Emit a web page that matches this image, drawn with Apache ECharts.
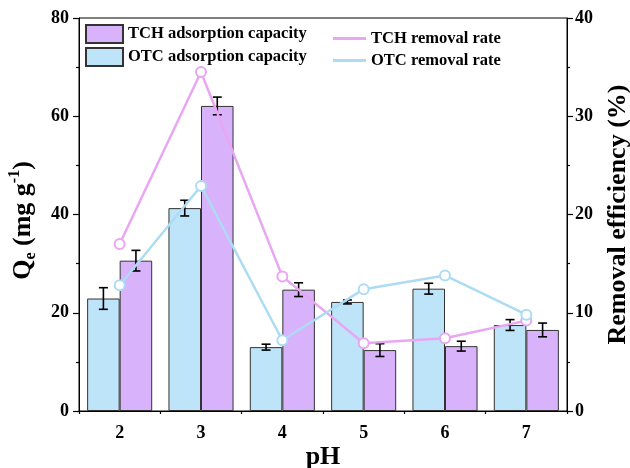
<!DOCTYPE html>
<html>
<head>
<meta charset="utf-8">
<script src="https://cdn.jsdelivr.net/npm/echarts@6/dist/echarts.min.js"></script>
<style>
  html, body { margin: 0; padding: 0; background: #fff; }
  #chart { width: 630px; height: 468px; }
</style>
</head>
<body>
<div id="chart"></div>
<script>
// pH values on the x axis
var pH = ['2', '3', '4', '5', '6', '7'];

// Adsorption capacity Qe (mg/g) with error (±)
var otcQe    = [22.9, 41.3, 13.0, 22.2, 24.9, 17.5];
var otcQeErr = [2.2, 1.6, 0.6, 0.4, 1.1, 1.1];
var tchQe    = [30.6, 62.1, 24.7, 12.4, 13.2, 16.5];
var tchQeErr = [2.1, 1.8, 1.4, 1.3, 1.0, 1.4];

// Removal efficiency (%)
var tchRate = [17.0, 34.5, 13.7, 6.9, 7.4, 9.2];
var otcRate = [12.8, 22.9, 7.2, 12.4, 13.8, 9.8];

var FONT = '"Liberation Serif", "Times New Roman", serif';
var TCH_BAR = '#D8B2FA', OTC_BAR = '#BDE4F9';
var TCH_LINE = '#E9A6F2', OTC_LINE = '#ADDBF4';
var BAR_FRAC = 0.4;

function errData(vals, errs) {
  return vals.map(function (v, i) { return [i, v, errs[i]]; });
}

// error bar drawn at the bar centre (side = -1 left bar, +1 right bar)
function errRenderer(side) {
  return function (params, api) {
    var idx = api.value(0), mid = api.value(1), err = api.value(2);
    var band = api.size([1, 0])[0];
    var top = api.coord([idx, mid + err]);
    var bot = api.coord([idx, mid - err]);
    var x = top[0] + side * band * BAR_FRAC / 2;
    var cap = 4.5;
    var st = { stroke: '#000', lineWidth: 1.6 };
    return {
      type: 'group',
      children: [
        { type: 'line', shape: { x1: x, y1: top[1], x2: x, y2: bot[1] }, style: st },
        { type: 'line', shape: { x1: x - cap, y1: top[1], x2: x + cap, y2: top[1] }, style: st },
        { type: 'line', shape: { x1: x - cap, y1: bot[1], x2: x + cap, y2: bot[1] }, style: st }
      ]
    };
  };
}

var chart = echarts.init(document.getElementById('chart'), null, { renderer: 'canvas' });

var axisLabelStyle = { color: '#000', fontFamily: FONT, fontWeight: 'bold', fontSize: 18 };
var titleStyle = { color: '#000', fontFamily: FONT, fontWeight: 'bold', fontSize: 26 };

chart.setOption({
  animation: false,
  backgroundColor: '#fff',
  textStyle: { fontFamily: FONT },
  grid: {
    left: 79, right: 63, top: 18, bottom: 57,
    outerBoundsMode: 'none', containLabel: false,
    show: true, borderColor: '#000', borderWidth: 1
  },
  legend: [
    {
      data: [
        { name: 'TCH adsorption capacity', icon: 'rect' },
        { name: 'OTC adsorption capacity', icon: 'rect' }
      ],
      orient: 'vertical', left: 85, top: 24, padding: 0,
      itemWidth: 37, itemHeight: 18, itemGap: 3,
      textStyle: { color: '#000', fontFamily: FONT, fontWeight: 'bold', fontSize: 16.5 }
    },
    {
      data: [
        { name: 'TCH removal rate', icon: 'rect', itemStyle: { color: TCH_LINE, borderWidth: 0 } },
        { name: 'OTC removal rate', icon: 'rect', itemStyle: { color: OTC_LINE, borderWidth: 0 } }
      ],
      orient: 'vertical', left: 333, top: 30, padding: 0,
      itemWidth: 33, itemHeight: 3, itemGap: 5,
      textStyle: { color: '#000', fontFamily: FONT, fontWeight: 'bold', fontSize: 16.5 }
    }
  ],
  xAxis: [
    {
      type: 'category', data: pH, boundaryGap: true,
      name: 'pH', nameLocation: 'middle', nameGap: 33, nameMoveOverlap: false,
      nameTextStyle: titleStyle,
      axisLine: { lineStyle: { color: '#000', width: 1 } },
      axisTick: { alignWithLabel: true, length: 6, lineStyle: { color: '#000', width: 1.2 } },
      axisLabel: Object.assign({ margin: 13 }, axisLabelStyle),
      splitLine: { show: false }
    },
    {
      type: 'category', data: pH, boundaryGap: true, position: 'bottom',
      axisLine: { show: false },
      axisTick: { show: true, length: 3, lineStyle: { color: '#000', width: 1.2 } },
      axisLabel: { show: false },
      splitLine: { show: false }
    }
  ],
  yAxis: [
    {
      type: 'value', min: 0, max: 80, interval: 20, position: 'left',
      name: '{b|Q}{s|e}{b| (mg g}{p|-1}{b|)}',
      nameLocation: 'middle', nameGap: 40, nameRotate: 90,
      nameTextStyle: {
        padding: [0, 12, 0, 0],
        rich: {
          b: { fontFamily: FONT, fontWeight: 'bold', fontSize: 26, color: '#000', lineHeight: 32, verticalAlign: 'middle' },
          s: { fontFamily: FONT, fontWeight: 'bold', fontSize: 16, color: '#000', lineHeight: 32, verticalAlign: 'bottom' },
          p: { fontFamily: FONT, fontWeight: 'bold', fontSize: 16, color: '#000', lineHeight: 32, verticalAlign: 'top' }
        }
      },
      axisLine: { show: true, lineStyle: { color: '#000', width: 1 } },
      axisTick: { show: true, length: 6, lineStyle: { color: '#000', width: 1.2 } },
      minorTick: { show: true, splitNumber: 2, length: 3, lineStyle: { color: '#000', width: 1.2 } },
      axisLabel: Object.assign({ margin: 10 }, axisLabelStyle),
      splitLine: { show: false }
    },
    {
      type: 'value', min: 0, max: 40, interval: 10, position: 'right',
      name: 'Removal efficiency (%)',
      nameLocation: 'middle', nameGap: 38, nameRotate: 90,
      nameTextStyle: titleStyle,
      axisLine: { show: true, lineStyle: { color: '#000', width: 1 } },
      axisTick: { show: true, length: 6, lineStyle: { color: '#000', width: 1.2 } },
      minorTick: { show: true, splitNumber: 2, length: 3, lineStyle: { color: '#000', width: 1.2 } },
      axisLabel: Object.assign({ margin: 8 }, axisLabelStyle),
      splitLine: { show: false }
    }
  ],
  series: [
    {
      name: 'OTC adsorption capacity', type: 'bar', data: otcQe,
      barWidth: (BAR_FRAC * 100) + '%', barGap: '0%', z: 2,
      itemStyle: { color: OTC_BAR, borderColor: '#333', borderWidth: 1 }
    },
    {
      name: 'TCH adsorption capacity', type: 'bar', data: tchQe,
      barWidth: (BAR_FRAC * 100) + '%', barGap: '0%', z: 2,
      itemStyle: { color: TCH_BAR, borderColor: '#333', borderWidth: 1 }
    },
    {
      name: 'OTC error', type: 'custom', data: errData(otcQe, otcQeErr),
      renderItem: errRenderer(-1), z: 3, encode: { x: 0, y: 1 }
    },
    {
      name: 'TCH error', type: 'custom', data: errData(tchQe, tchQeErr),
      renderItem: errRenderer(1), z: 3, encode: { x: 0, y: 1 }
    },
    {
      name: 'TCH removal rate', type: 'line', yAxisIndex: 1, data: tchRate,
      symbol: 'circle', symbolSize: 10, z: 4,
      lineStyle: { color: TCH_LINE, width: 2.5 },
      itemStyle: { color: '#fff', borderColor: TCH_LINE, borderWidth: 2 }
    },
    {
      name: 'OTC removal rate', type: 'line', yAxisIndex: 1, data: otcRate,
      symbol: 'circle', symbolSize: 10, z: 4,
      lineStyle: { color: OTC_LINE, width: 2.5 },
      itemStyle: { color: '#fff', borderColor: OTC_LINE, borderWidth: 2 }
    }
  ]
});
</script>
</body>
</html>
